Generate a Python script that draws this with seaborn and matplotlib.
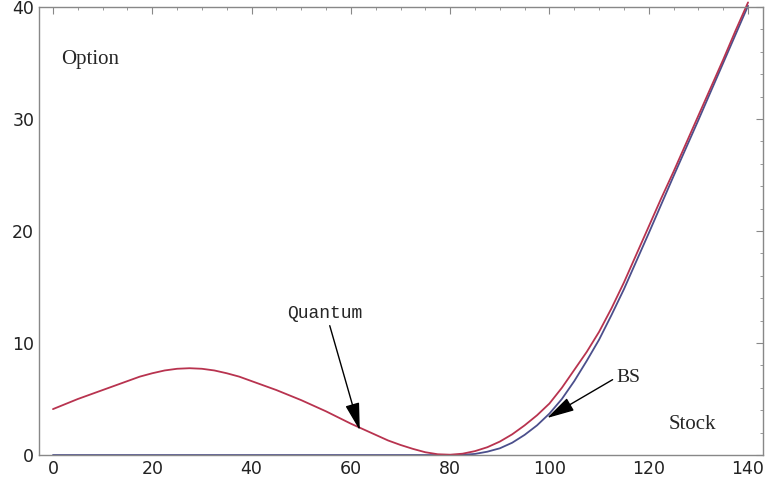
import numpy as np
import pandas as pd
import seaborn as sns
import matplotlib.pyplot as plt
from matplotlib.ticker import MultipleLocator

# values (every 2.5 on the stock axis)
stock = [0, 2.5, 5, 7.5, 10, 12.5, 15, 17.5, 20, 22.5, 25, 27.5, 30, 32.5, 35,
         37.5, 40, 42.5, 45, 47.5, 50, 52.5, 55, 57.5, 60, 62.5, 65, 67.5, 70,
         72.5, 75, 77.5, 80, 82.5, 85, 87.5, 90, 92.5, 95, 97.5, 100, 102.5,
         105, 107.5, 110, 112.5, 115, 117.5, 120, 122.5, 125, 127.5, 130,
         132.5, 135, 137.5, 140]
quantum = [4.1, 4.55, 5.0, 5.4, 5.8, 6.2, 6.6, 7.0, 7.3, 7.55, 7.7, 7.75, 7.7,
           7.55, 7.3, 7.0, 6.6, 6.2, 5.8, 5.35, 4.9, 4.4, 3.9, 3.35, 2.8, 2.3,
           1.8, 1.3, 0.9, 0.55, 0.25, 0.07, 0.03, 0.12, 0.35, 0.7, 1.2, 1.85,
           2.65, 3.55, 4.6, 6.0, 7.6, 9.2, 11.0, 13.1, 15.4, 17.9, 20.4, 22.9,
           25.3, 27.8, 30.3, 32.8, 35.3, 37.9, 40.4]
bs = [0, 0, 0, 0, 0, 0, 0, 0, 0, 0, 0, 0, 0, 0, 0, 0, 0, 0, 0, 0, 0, 0, 0, 0,
      0, 0, 0, 0, 0, 0, 0, 0, 0, 0.02, 0.1, 0.3, 0.6, 1.1, 1.8, 2.65, 3.7, 5.0,
      6.6, 8.4, 10.3, 12.5, 14.8, 17.3, 19.8, 22.35, 24.9, 27.4, 29.9, 32.45,
      35.0, 37.55, 40.1]

df = pd.DataFrame({'Stock': stock, 'Quantum': quantum, 'BS': bs})

sns.set_style('white')
plt.rcParams['font.family'] = ['DejaVu Sans']

fig = plt.figure(figsize=(7.66, 4.93), dpi=100)
ax = fig.add_axes([0.051, 0.077, 0.945, 0.909])

sns.lineplot(data=df, x='Stock', y='BS', ax=ax, color='#4b4f8c', lw=1.3, clip_on=False)
sns.lineplot(data=df, x='Stock', y='Quantum', ax=ax, color='#b8334f', lw=1.3, clip_on=False)

ax.set_xlim(-2.8, 143)
ax.set_ylim(0, 40)
ax.set_xlabel('')
ax.set_ylabel('')

ax.xaxis.set_major_locator(MultipleLocator(20))
ax.xaxis.set_minor_locator(MultipleLocator(5))
ax.yaxis.set_major_locator(MultipleLocator(10))
ax.yaxis.set_minor_locator(MultipleLocator(2))
ax.tick_params(which='both', direction='in', top=True, right=True, color='#888888',
               labelsize=12.5, labelcolor='#222222')
ax.tick_params(which='major', length=5, width=0.8)
ax.tick_params(which='minor', length=2.5, width=0.6)
for s in ax.spines.values():
    s.set_color('#888888')
    s.set_linewidth(1)

serif = ['Liberation Serif', 'DejaVu Serif']
ax.text(1.6, 35.3, 'Option', fontsize=15, family=serif, va='center', ha='left')
ax.text(128.7, 2.7, 'Stock', fontsize=15, family=serif, va='center', ha='center')

arrow = dict(arrowstyle='-|>,head_length=0.85,head_width=0.22', color='black', lw=1,
             shrinkA=0, shrinkB=0, mutation_scale=20)
ax.annotate('Quantum', xy=(61.8, 2.2), xytext=(54.8, 12.6), fontsize=13,
            family=['Liberation Mono', 'DejaVu Sans Mono'], ha='center', va='center',
            arrowprops=dict(arrow, relpos=(0.55, 0)))
ax.annotate('BS', xy=(99.5, 3.3), xytext=(115.8, 6.9), fontsize=14, family=serif,
            ha='center', va='center', arrowprops=dict(arrow, relpos=(0, 0.5)))

fig.savefig('out.png', dpi=100)
